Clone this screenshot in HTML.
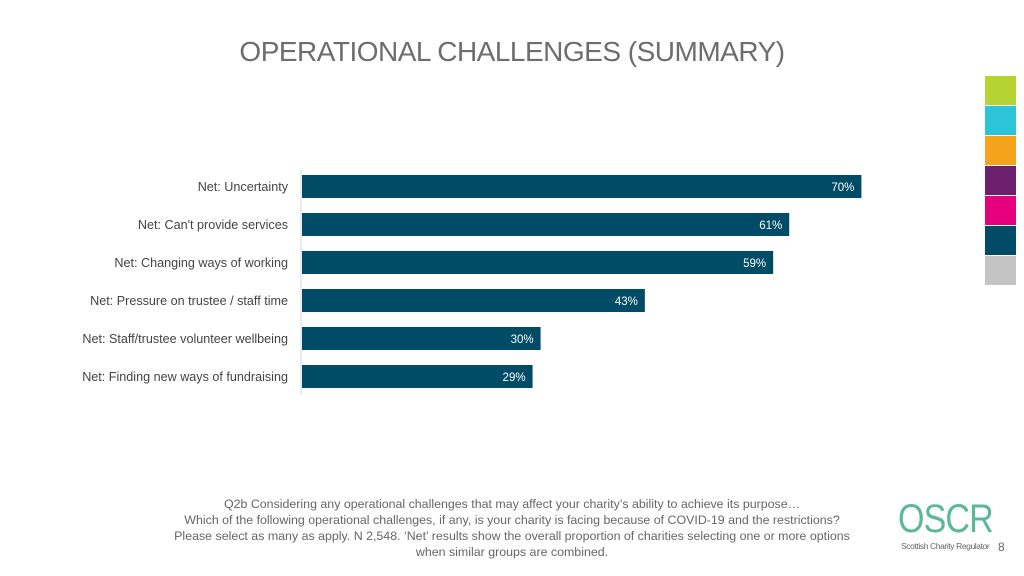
<!DOCTYPE html>
<html><head><meta charset="utf-8"><style>
body{margin:0;width:1024px;height:576px;background:#fff;font-family:"Liberation Sans",sans-serif;position:relative;overflow:hidden}
#title{position:absolute;top:36px;left:0;width:1024px;text-align:center;font-size:28px;color:#6d6d6d;letter-spacing:-0.5px}
.sw{position:absolute;left:985px;width:31px;height:29px}
#note{position:absolute;top:496px;left:112px;width:800px;text-align:center;font-size:12.4px;line-height:16px;color:#666}
#logo{position:absolute;left:898px;top:497px;font-size:40px;color:#5bb89a;letter-spacing:-1px;transform:scaleX(0.85);transform-origin:left}
#logosub{position:absolute;left:901px;top:541px;font-size:8.5px;color:#666;letter-spacing:-0.4px}
#pg{position:absolute;left:998px;top:540px;font-size:12px;color:#666}
</style></head><body>
<div id="title">OPERATIONAL CHALLENGES (SUMMARY)</div>
<div class="sw" style="top:76px;background:#b6d334"></div>
<div class="sw" style="top:106px;background:#2ec4d8"></div>
<div class="sw" style="top:136px;background:#f5a31a"></div>
<div class="sw" style="top:166px;background:#6c1f6c"></div>
<div class="sw" style="top:196px;background:#e6007e"></div>
<div class="sw" style="top:226px;background:#004b66"></div>
<div class="sw" style="top:256px;background:#c4c4c4"></div>
<svg id="chart" width="1024" height="576" style="position:absolute;left:0;top:0"></svg>
<div id="note">Q2b Considering any operational challenges that may affect your charity’s ability to achieve its purpose…<br>Which of the following operational challenges, if any, is your charity is facing because of COVID-19 and the restrictions?<br>Please select as many as apply. N 2,548. ‘Net’ results show the overall proportion of charities selecting one or more options<br>when similar groups are combined.</div>
<div id="logo">OSCR</div>
<div id="logosub">Scottish Charity Regulator</div>
<div id="pg">8</div>
<script>
const categories=["Net: Uncertainty","Net: Can't provide services","Net: Changing ways of working","Net: Pressure on trustee / staff time","Net: Staff/trustee volunteer wellbeing","Net: Finding new ways of fundraising"];
const values=[70,61,59,43,30,29];
const labels=["70%","61%","59%","43%","30%","29%"];
const svg=document.getElementById('chart');
const NS='http://www.w3.org/2000/svg';
const x0=301,pxPer=8.02,y0=175,step=38,bh=23;
const xs=v=>x0+v*pxPer;
const ys=i=>y0+i*step;
const ax=document.createElementNS(NS,'line');


ax.setAttribute('x1',x0);ax.setAttribute('x2',x0);ax.setAttribute('y1',170);ax.setAttribute('y2',395);ax.setAttribute('stroke','#d9d9d9');
svg.appendChild(ax);
values.forEach((v,i)=>{
  const r=document.createElementNS(NS,'rect');
  
  
  r.setAttribute('x',x0+1);r.setAttribute('y',ys(i));r.setAttribute('width',xs(v)-x0-2);r.setAttribute('height',bh);r.setAttribute('fill','#004b66');
  svg.appendChild(r);
  const t=document.createElementNS(NS,'text');
  
  
  t.setAttribute('x',xs(v)-8);t.setAttribute('y',ys(i)+16);t.setAttribute('text-anchor','end');t.setAttribute('fill','#fff');t.setAttribute('font-size','11.5');
  t.textContent=labels[i];svg.appendChild(t);
  const c=document.createElementNS(NS,'text');
  
  
  c.setAttribute('x',288);c.setAttribute('y',ys(i)+16);c.setAttribute('text-anchor','end');c.setAttribute('fill','#444');c.setAttribute('font-size','12.6');
  c.textContent=categories[i];svg.appendChild(c);
});
</script>
</body></html>
